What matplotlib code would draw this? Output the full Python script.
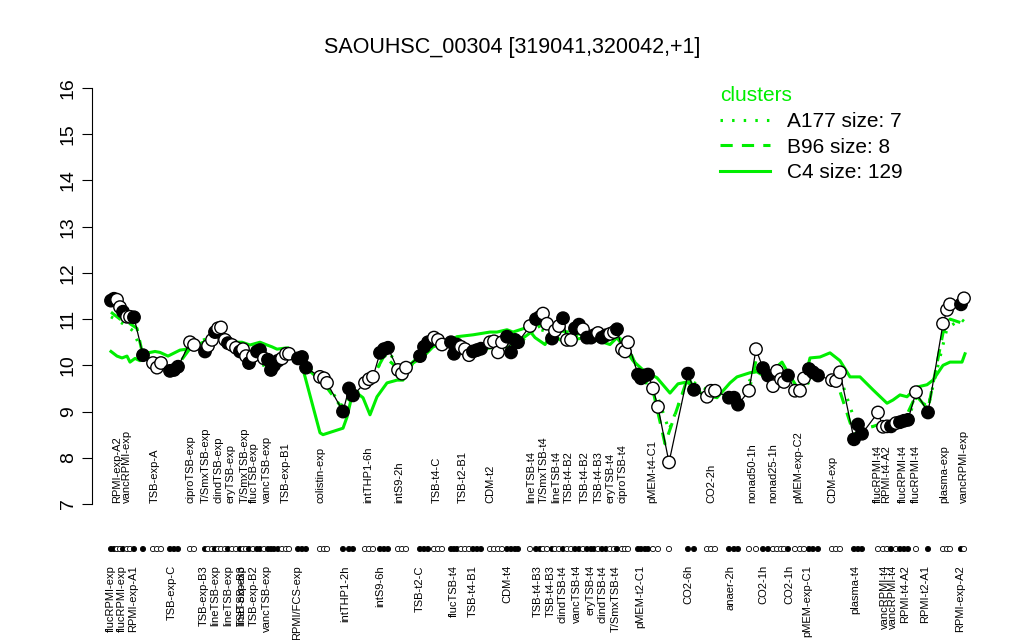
import matplotlib
matplotlib.use("Agg")
import matplotlib.pyplot as plt
from matplotlib.lines import Line2D

plt.rcParams['font.family'] = ['Liberation Sans', 'DejaVu Sans']

# sample positions along the x axis, expression values, filled (1) / open (0)
pos = [111, 114, 117, 120, 123, 127, 130, 134, 143,
       153, 157, 161,
       170, 174, 178,
       190, 194,
       205, 208, 212, 215, 218, 221, 225, 228, 232, 236, 240, 243, 246, 249,
       253, 257, 260, 264, 268, 271, 274, 278, 282, 286, 289,
       298, 302, 306,
       320, 324, 327,
       343, 349, 353,
       365, 369, 373,
       380, 384, 388,
       398, 402, 406,
       420, 424, 428,
       434, 438, 442,
       451, 454, 457, 461, 465, 469, 473, 477, 481,
       490, 494, 498, 502, 507, 511, 515, 518,
       530, 536, 540, 543, 547, 552, 555, 559, 563, 567, 571, 575, 579, 583,
       587, 591, 594, 598, 602, 606, 610, 614, 617, 622, 625, 628,
       638, 641, 645, 648, 653, 658,
       669,
       688, 694,
       707, 711, 715,
       729, 734, 738,
       749, 756, 763, 768, 773, 777, 781, 784, 788,
       795, 800, 804, 809, 813, 818,
       832, 836, 840,
       854, 858, 862,
       878, 883, 887, 891, 896, 900, 904, 908, 916,
       928,
       943, 947, 950,
       961, 964]
expr = [11.40, 11.44, 11.42, 11.26, 11.16, 11.05, 11.05, 11.04, 10.22,
        10.05, 9.95, 10.05,
        9.88, 9.90, 9.97,
        10.50, 10.44,
        10.30, 10.42, 10.55, 10.72, 10.80, 10.82, 10.55, 10.48, 10.44, 10.38,
        10.30, 10.35, 10.20, 10.05,
        10.20, 10.30, 10.33, 10.15, 10.12, 9.90, 10.00, 10.10, 10.15, 10.25,
        10.25,
        10.15, 10.18, 9.95,
        9.75, 9.72, 9.62,
        9.00, 9.50, 9.35,
        9.62, 9.70, 9.75,
        10.27, 10.35, 10.38,
        9.90, 9.82, 9.95,
        10.20, 10.40, 10.50,
        10.60, 10.55, 10.45,
        10.50, 10.25, 10.45, 10.40, 10.35, 10.22, 10.30, 10.33, 10.36,
        10.50, 10.52, 10.28, 10.50, 10.62, 10.28, 10.55, 10.50,
        10.85, 11.00, 11.05, 11.12, 10.90, 10.58, 10.75, 10.85, 11.02, 10.55,
        10.55, 10.80, 10.88, 10.78,
        10.60, 10.60, 10.65, 10.70, 10.60, 10.65, 10.68, 10.72, 10.78, 10.35,
        10.30, 10.50,
        9.80, 9.72, 9.78, 9.80, 9.50, 9.10,
        7.90,
        9.82, 9.47,
        9.32, 9.45, 9.45,
        9.30, 9.30, 9.15,
        9.45, 10.35, 9.94, 9.78, 9.55, 9.88, 9.70, 9.64, 9.78,
        9.45, 9.45, 9.72, 9.92, 9.85, 9.78,
        9.68, 9.66, 9.85,
        8.40, 8.72, 8.52,
        8.98, 8.67, 8.68, 8.68, 8.75, 8.77, 8.80, 8.82, 9.42,
        8.98,
        10.90, 11.20, 11.32,
        11.32, 11.45]
filled = [1, 1, 0, 0, 1, 0, 0, 1, 1,
          0, 0, 0,
          1, 1, 1,
          0, 0,
          1, 0, 0, 1, 0, 0, 0, 1, 0, 0, 1, 0, 0, 1,
          0, 1, 1, 0, 1, 1, 1, 1, 0, 0, 0,
          1, 1, 1,
          0, 0, 0,
          1, 1, 1,
          0, 0, 0,
          1, 1, 1,
          0, 0, 0,
          1, 1, 1,
          0, 0, 0,
          1, 1, 1, 0, 0, 0, 1, 1, 1,
          0, 0, 0, 0, 1, 1, 1, 1,
          0, 1, 1, 0, 0, 1, 0, 0, 1, 0, 0, 1, 1, 0,
          1, 1, 1, 0, 1, 1, 0, 0, 1, 0, 0, 0,
          1, 1, 1, 1, 0, 0,
          0,
          1, 1,
          0, 0, 0,
          1, 1, 1,
          0, 0, 1, 1, 0, 0, 0, 0, 1,
          0, 0, 0, 1, 1, 1,
          0, 0, 0,
          1, 1, 1,
          0, 0, 0, 1, 0, 1, 1, 1, 0,
          1,
          0, 0, 0,
          1, 0]

# cluster profiles
c4_pos = [111, 117, 122, 127, 130, 135, 140, 148, 155, 160, 168, 180, 187, 196,
          207, 220, 230, 242, 250, 260, 267, 272, 277, 288, 300, 320, 323, 343,
          347, 352, 357, 363, 370, 377, 387, 397, 403, 413, 423, 433, 447, 457,
          473, 490, 497, 507, 513, 527, 535, 545, 552, 560, 572, 585, 600, 610,
          617, 633, 643, 657, 670, 678, 687, 693, 703, 717, 730, 737, 750, 757,
          763, 773, 782, 788, 797, 803, 810, 820, 830, 840, 850, 860, 873, 887,
          893, 900, 907, 917, 927, 933, 943, 950, 962, 965]
c4_val = [10.30, 10.20, 10.16, 10.20, 10.07, 10.15, 10.10, 10.27, 10.30, 10.28,
          10.20, 10.33, 10.35, 10.40, 10.55, 10.65, 10.50, 10.50, 10.44, 10.50,
          10.44, 10.40, 10.35, 10.38, 10.16, 8.54, 8.50, 8.64, 8.88, 9.35, 9.40,
          9.30, 8.93, 9.32, 9.62, 9.68, 9.68, 10.05, 10.18, 10.40, 10.50, 10.62,
          10.66, 10.72, 10.72, 10.77, 10.72, 10.82, 10.60, 10.45, 10.70, 10.55,
          10.55, 10.60, 10.52, 10.45, 10.60, 10.10, 9.90, 9.73, 9.40, 9.60, 9.64,
          9.55, 9.36, 9.30, 9.62, 9.75, 9.84, 9.86, 9.78, 9.90, 10.07, 9.84, 9.53,
          9.55, 10.16, 10.18, 10.27, 10.10, 9.75, 9.75, 9.47, 9.18, 9.25, 9.36,
          9.32, 9.53, 9.58, 9.68, 10.00, 10.07, 10.07, 10.25]
b96_pos = [111, 120, 130, 137, 143, 157, 174, 192, 212, 218, 232, 249, 260, 271,
           289, 302, 306, 324, 343, 353, 369, 384, 402, 424, 438, 457, 469, 481,
           498, 511, 530, 543, 559, 575, 594, 617, 628, 641, 653, 665, 688, 694,
           711, 734, 749, 756, 768, 788, 800, 813, 836, 854, 862, 883, 904, 916,
           928, 943, 950, 964]
b96_val = [11.15, 11.00, 10.90, 10.80, 10.20, 9.98, 9.90, 10.42, 10.55, 10.72,
           10.42, 10.10, 10.30, 9.95, 10.20, 10.10, 9.95, 9.60, 9.05, 9.35, 9.60,
           10.20, 9.85, 10.30, 10.50, 10.40, 10.30, 10.35, 10.40, 10.40, 10.70,
           10.90, 10.75, 10.70, 10.60, 10.65, 10.40, 9.75, 9.45, 8.30, 9.75, 9.50,
           9.42, 9.30, 9.45, 10.10, 9.75, 9.72, 9.45, 9.80, 9.70, 8.50, 8.60, 8.75,
           8.80, 9.35, 9.05, 10.70, 11.00, 10.90]
a177_pos = [111, 123, 133, 143, 157, 174, 192, 215, 232, 249, 271, 289, 306, 324,
            343, 353, 369, 388, 402, 428, 442, 461, 481, 502, 518, 536, 552, 571,
            591, 610, 625, 645, 658, 669, 688, 711, 738, 756, 777, 800, 818, 840,
            858, 887, 908, 916, 928, 947, 961, 964]
a177_val = [11.05, 10.90, 10.75, 10.25, 10.00, 9.95, 10.45, 10.65, 10.45, 10.10,
            9.95, 10.25, 10.00, 9.65, 9.10, 9.40, 9.65, 10.30, 9.90, 10.40, 10.50,
            10.40, 10.40, 10.45, 10.45, 10.80, 10.70, 10.65, 10.62, 10.65, 10.40,
            9.70, 9.30, 8.60, 9.70, 9.42, 9.25, 9.90, 9.75, 9.50, 9.75, 9.75, 8.60,
            8.75, 8.85, 9.30, 9.10, 10.80, 11.00, 10.95]

top_pos = [117, 127, 155, 191, 206, 219, 231, 245, 254, 267, 286, 321, 368, 399,
           437, 463, 490, 531, 544, 556, 569, 585, 599, 611, 623, 652, 711, 752,
           773, 798, 832, 878, 886, 903, 916, 944, 964]
top_txt = ['RPMI-exp-A2', 'vancRPMI-exp', 'TSB-exp-A', 'ciproTSB-exp',
           'T/SmxTSB-exp', 'clindTSB-exp', 'eryTSB-exp', 'T/SmxTSB-exp',
           'flucTSB-exp', 'vancTSB-exp', 'TSB-exp-B1', 'colistin-exp',
           'intTHP1-6h', 'intS9-2h', 'TSB-t4-C', 'TSB-t2-B1', 'CDM-t2',
           'lineTSB-t4', 'T/SmxTSB-t4', 'lineTSB-t4', 'TSB-t4-B2', 'TSB-t4-B2',
           'TSB-t4-B3', 'eryTSB-t4', 'ciproTSB-t4', 'pMEM-t4-C1', 'CO2-2h',
           'nonad50-1h', 'nonad25-1h', 'pMEM-exp-C2', 'CDM-exp', 'flucRPMI-t4',
           'RPMI-t4-A2', 'flucRPMI-t4', 'flucRPMI-t4', 'plasma-exp',
           'vancRPMI-exp']
bot_pos = [111, 122, 133, 172, 204, 215, 228, 241, 242, 254, 267, 297, 345, 380,
           420, 454, 473, 507, 538, 551, 563, 577, 590, 603, 616, 640, 688, 731,
           763, 789, 807, 855, 885, 893, 905, 925, 960]
bot_txt = ['flucRPMI-exp', 'flucRPMI-exp', 'RPMI-exp-A1', 'TSB-exp-C',
           'TSB-exp-B3', 'lineTSB-exp', 'lineTSB-exp', 'lineTSB-exp',
           'TSB-exp-B3', 'TSB-exp-B2', 'vancTSB-exp', 'RPMI/FCS-exp',
           'intTHP1-2h', 'intS9-6h', 'TSB-t2-C', 'flucTSB-t4', 'TSB-t4-B1',
           'CDM-t4', 'TSB-t4-B3', 'TSB-t4-B3', 'clindTSB-t4', 'vancTSB-t4',
           'eryTSB-t4', 'clindTSB-t4', 'T/SmxTSB-t4', 'pMEM-t2-C1', 'CO2-6h',
           'anaer-2h', 'CO2-1h', 'CO2-1h', 'pMEM-exp-C1', 'plasma-t4',
           'vancRPMI-t4', 'vancRPMI-t4', 'RPMI-t4-A2', 'RPMI-t2-A1',
           'RPMI-exp-A2']

green = '#00ee00'

fig = plt.figure(figsize=(10.24, 6.4), dpi=100)
ax = fig.add_axes([92 / 1024, 1 - 504 / 640, (983 - 92) / 1024, (504 - 88) / 640])
ax.set_xlim(92, 983)
ax.set_ylim(7, 16)

# cluster lines
ax.plot(c4_pos, c4_val, color=green, lw=2.2, zorder=2)
ax.plot(b96_pos, b96_val, color=green, lw=2.2, ls=(0, (4, 3)), zorder=2)
ax.plot(a177_pos, a177_val, color=green, lw=2.2, ls=(0, (0.8, 3)), zorder=2)

# gene profile
ax.plot(pos, expr, color='black', lw=0.9, zorder=3)
fc = ['black' if f else 'white' for f in filled]
ax.scatter(pos, expr, s=80, c=fc, edgecolors='black', linewidths=1.0, zorder=4)

# sample strip below the axis
strip_y = 7 - 45 / 46.2
ax.scatter(pos, [strip_y] * len(pos), s=14, c=fc, edgecolors='black',
           linewidths=0.6, clip_on=False, zorder=4)

for x, t in zip(top_pos, top_txt):
    ax.text(x, 7.02, t, rotation=90, ha='center', va='bottom', fontsize=8)
for x, t in zip(bot_pos, bot_txt):
    ax.text(x, 7 - 61 / 46.2, t, rotation=90, ha='center', va='top', fontsize=8,
            clip_on=False)

for s in ['top', 'right', 'bottom']:
    ax.spines[s].set_visible(False)
ax.spines['left'].set_bounds(7, 16)
ax.set_xticks([])
ax.set_yticks(range(7, 17))
ax.tick_params(axis='y', length=7, labelsize=14, pad=4)
for lab in ax.get_yticklabels():
    lab.set_rotation(90)
    lab.set_va('center')

fig.text(0.5, 1 - 47 / 640, 'SAOUHSC_00304 [319041,320042,+1]', ha='center',
         va='center', fontsize=15.5)

handles = [Line2D([], [], color=green, lw=2.2, ls=(0, (0.8, 3))),
           Line2D([], [], color=green, lw=2.2, ls=(0, (4, 3))),
           Line2D([], [], color=green, lw=2.2)]
leg = ax.legend(handles, ['A177 size: 7', 'B96 size: 8', 'C4 size: 129'],
                title='clusters', frameon=False, fontsize=15, title_fontsize=15,
                loc='upper left', bbox_to_anchor=(712 / 1024, 1 - 78 / 640),
                bbox_transform=fig.transFigure, handlelength=2.4,
                labelspacing=0.32, borderaxespad=0, handletextpad=0.8)
leg._legend_box.align = 'left'
leg.get_title().set_color(green)

fig.savefig('out.png', dpi=100)
